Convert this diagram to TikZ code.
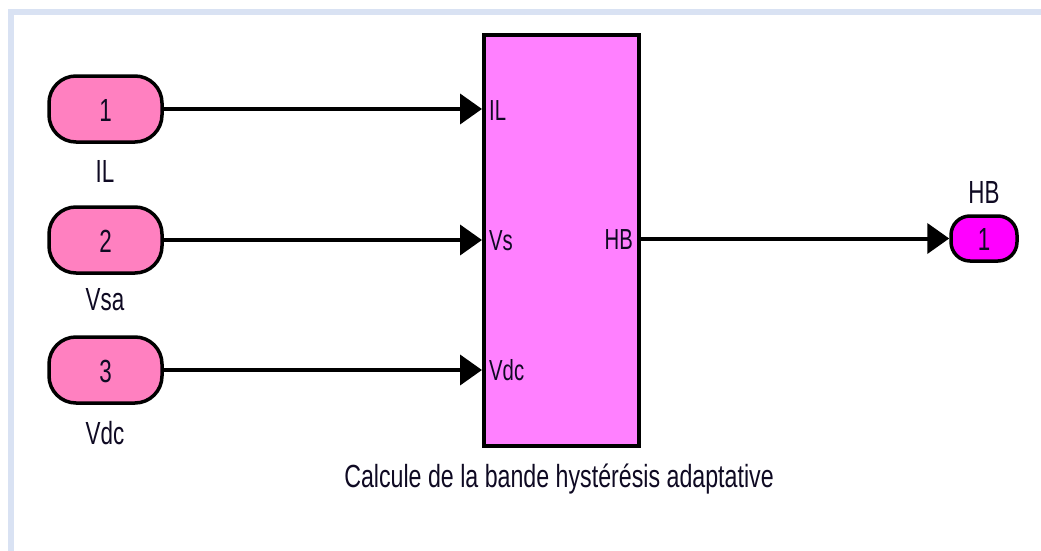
\documentclass[tikz,border=0pt]{standalone}
\usepackage{fontspec}
\setmainfont{Liberation Sans}[FakeStretch=0.7]
\newfontfamily\capfamily{Liberation Sans}[FakeStretch=0.725]
\usetikzlibrary{arrows.meta}
\definecolor{framecol}{RGB}{217,226,243}
\definecolor{inpink}{RGB}{255,128,192}
\definecolor{blockpink}{RGB}{255,128,255}
\definecolor{outmag}{RGB}{255,0,255}
\definecolor{txt}{RGB}{15,10,35}
\newcommand\bigtxt{\fontsize{32}{32}\selectfont}
\newcommand\porttxt{\fontsize{29}{29}\selectfont}
\tikzset{
  inport/.style={draw=black, line width=3.5pt, fill=inpink, rounded corners=27pt,
    minimum width=113pt, minimum height=66pt, inner sep=0pt},
  outport/.style={draw=black, line width=3.5pt, fill=outmag, rounded corners=19pt,
    minimum width=66pt, minimum height=45pt, inner sep=0pt},
  subsys/.style={draw=black, line width=4pt, fill=blockpink,
    minimum width=155pt, minimum height=411pt, inner sep=0pt},
  numtxt/.style={anchor=base, text=txt, font=\bigtxt, inner sep=0pt},
  lbl/.style={anchor=base, text=txt, font=\bigtxt, inner sep=0pt},
  portlbl/.style={anchor=base west, text=txt, font=\porttxt, inner sep=0pt},
  wire/.style={line width=4pt, -{Triangle[length=22pt,width=30pt]}},
}
\begin{document}
\begin{tikzpicture}[x=1pt,y=-1pt]
\useasboundingbox (0,0) rectangle (1041,551);
\fill[white] (0,0) rectangle (1041,551);
% window frame
\fill[framecol] (8,9) rectangle (1041,15);
\fill[framecol] (8,9) rectangle (14,551);

% inports
\node[inport] (in1) at (105.5,109) {};
\node[inport] (in2) at (105.5,240) {};
\node[inport] (in3) at (105.5,370) {};
\node[numtxt] (n1) at (105.5,121) {1};
\node[numtxt] (n2) at (105.5,252) {2};
\node[numtxt] (n3) at (105.5,382) {3};
\node[lbl] (l1) at (105,182) {IL};
\node[lbl] (l2) at (105,310) {Vsa};
\node[lbl] (l3) at (105,444) {Vdc};

% subsystem block
\node[subsys] (blk) at (561.5,240.5) {};
\node[portlbl] (p1) at (489,120) {IL};
\node[portlbl] (p2) at (489,250) {Vs};
\node[portlbl] (p3) at (489,380) {Vdc};
\node[anchor=base east, text=txt, font=\porttxt, inner sep=0pt] (p4) at (633,249) {HB};
\node[lbl, font=\capfamily\bigtxt] (cap) at (559,487) {Calcule de la bande hystérésis adaptative};

% outport
\node[outport] (out1) at (984,238.5) {};
\node[numtxt] (n4) at (984,250) {1};
\node[lbl] (l4) at (984,203) {HB};

% signal lines
\draw[wire] (in1.east) -- (in1.east -| blk.west);
\draw[wire] (in2.east) -- (in2.east -| blk.west);
\draw[wire] (in3.east) -- (in3.east -| blk.west);
\draw[wire] (blk.east |- out1.west) -- (out1.west);
\end{tikzpicture}
\end{document}
